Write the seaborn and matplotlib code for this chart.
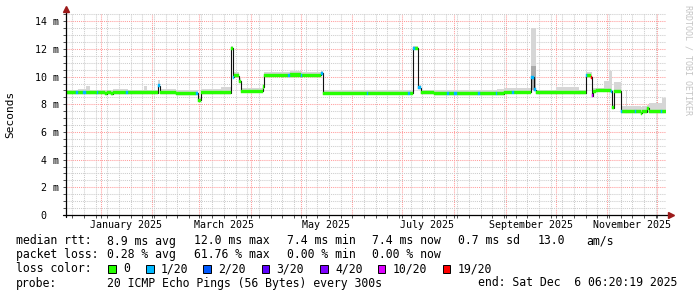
import numpy as np
import pandas as pd
import matplotlib
matplotlib.use("Agg")
import matplotlib.pyplot as plt
import matplotlib.dates as mdates
from matplotlib.ticker import MultipleLocator, FuncFormatter, NullFormatter
from matplotlib.patches import Rectangle
import seaborn as sns

# ---------------- data ----------------
period_start = "2024-12-11 06:20"
period_end = "2025-12-06 06:20"

seg_start = [
    "2024-12-11 06:20", "2024-12-17 12:00", "2024-12-18 12:00", "2024-12-21 06:00",
    "2024-12-23 00:00", "2024-12-25 20:00", "2024-12-29 18:00", "2024-12-30 12:00",
    "2025-01-03 18:00", "2025-01-04 18:00", "2025-01-07 06:00", "2025-01-08 06:00",
    "2025-01-16 00:00", "2025-01-17 06:00", "2025-01-27 00:00", "2025-01-29 00:00",
    "2025-02-04 12:00", "2025-02-05 22:00", "2025-02-15 10:00", "2025-02-27 00:00",
    "2025-02-28 08:00", "2025-03-02 04:00", "2025-03-14 00:00", "2025-03-20 00:00",
    "2025-03-21 10:00", "2025-03-22 00:00", "2025-03-25 00:00", "2025-03-26 06:00",
    "2025-04-08 12:00", "2025-04-09 06:00", "2025-04-23 12:00", "2025-04-24 12:00",
    "2025-05-01 00:00", "2025-05-02 00:00", "2025-05-13 06:00", "2025-05-14 06:00",
    "2025-06-09 15:00", "2025-06-10 12:00", "2025-07-04 18:00", "2025-07-05 12:00",
    "2025-07-07 16:00", "2025-07-08 16:00", "2025-07-10 16:00", "2025-07-12 01:00",
    "2025-07-20 00:00", "2025-07-28 00:00", "2025-07-29 00:00", "2025-08-01 00:00",
    "2025-08-03 00:00", "2025-08-15 12:00", "2025-08-16 12:00", "2025-08-26 00:00",
    "2025-08-27 00:00", "2025-08-31 00:00", "2025-09-05 00:00", "2025-09-06 00:00",
    "2025-09-16 06:00", "2025-09-18 00:00", "2025-09-19 00:00", "2025-10-01 00:00",
    "2025-10-15 00:00", "2025-10-19 02:00", "2025-10-20 00:00", "2025-10-22 00:00",
    "2025-10-22 18:00", "2025-10-23 18:00", "2025-10-25 00:00", "2025-10-30 00:00",
    "2025-11-02 00:00", "2025-11-03 06:00", "2025-11-04 00:00", "2025-11-05 06:00",
    "2025-11-09 00:00", "2025-11-10 00:00", "2025-11-12 00:00", "2025-11-12 16:00",
    "2025-11-17 12:00", "2025-11-18 06:00", "2025-11-21 06:00", "2025-11-22 00:00",
    "2025-11-25 00:00", "2025-11-26 00:00", "2025-12-03 00:00", "2025-12-04 00:00",
]
seg_median_ms = [
    8.85, 8.85, 8.85, 8.85, 8.85, 8.85, 8.85, 8.85,
    8.75, 8.85, 8.78, 8.85, 8.85, 8.85, 8.85, 8.85,
    9.35, 8.85, 8.75, 8.80, 8.30, 8.85, 8.85, 12.05,
    9.95, 10.07, 9.65, 8.93, 9.25, 10.10, 10.10, 10.12,
    10.10, 10.10, 10.25, 8.80, 8.80, 8.80, 8.80, 8.80,
    12.04, 12.04, 9.20, 8.85, 8.75, 8.75, 8.75, 8.75,
    8.75, 8.75, 8.75, 8.75, 8.75, 8.88, 8.88, 8.88,
    9.97, 9.05, 8.82, 8.82, 8.82, 10.05, 10.05, 9.95,
    8.62, 8.95, 9.02, 9.02, 9.02, 8.95, 7.76, 8.96,
    7.45, 7.45, 7.45, 7.45, 7.45, 7.45, 7.35, 7.45,
    7.70, 7.45, 7.45, 7.45,
]
seg_smoke_ms = [
    9.05, 9.05, 9.10, 9.10, 9.30, 9.05, 9.05, 9.00,
    9.00, 9.05, 9.05, 9.10, 9.10, 9.05, 9.35, 9.05,
    9.75, 9.10, 9.05, 9.05, 8.55, 9.10, 9.25, 12.25,
    10.25, 10.30, 9.90, 9.15, 9.45, 10.35, 10.35, 10.40,
    10.35, 10.35, 10.40, 9.00, 9.00, 9.00, 9.05, 9.05,
    12.20, 12.20, 9.40, 9.05, 9.00, 9.00, 9.00, 9.00,
    9.05, 9.05, 9.05, 9.05, 9.10, 9.15, 9.15, 9.15,
    13.50, 13.50, 9.05, 9.25, 9.05, 10.35, 10.35, 10.30,
    8.90, 9.15, 9.20, 9.70, 10.38, 10.38, 8.00, 9.60,
    7.80, 7.85, 9.06, 7.85, 7.85, 7.85, 7.80, 7.85,
    7.95, 8.10, 8.10, 8.46,
]
seg_loss = [
    0, 1, 0, 1, 0, 0, 1, 0,
    0, 0, 0, 0, 1, 0, 0, 0,
    1, 0, 0, 1, 0, 0, 0, 0,
    1, 0, 0, 0, 0, 0, 1, 0,
    1, 0, 1, 0, 1, 0, 1, 0,
    1, 0, 1, 0, 0, 1, 0, 1,
    0, 1, 0, 1, 0, 0, 1, 0,
    1, 1, 0, 0, 0, 1, 0, 6,
    5, 0, 0, 0, 0, 1, 0, 0,
    1, 0, 0, 0, 1, 0, 0, 0,
    0, 0, 1, 0,
]
# darker inner smoke of the September burst
inner_smoke_start = ["2025-09-16 06:00"]
inner_smoke_end = ["2025-09-19 00:00"]
inner_smoke_hi = [10.75]

loss_labels = ["0", "1/20", "2/20", "3/20", "4/20", "10/20", "19/20"]
loss_colors = ["#26ff00", "#00b8ff", "#0059ff", "#5e00ff", "#7e00ff", "#dd00ff", "#ff0000"]

month_labels = ["January 2025", "March 2025", "May 2025", "July 2025",
                "September 2025", "November 2025"]
month_label_dates = ["2025-01-16", "2025-03-16", "2025-05-16", "2025-07-16",
                     "2025-09-16", "2025-11-16"]

stats_rtt = ["8.9 ms avg", "12.0 ms max", "7.4 ms min", "7.4 ms now", "0.7 ms sd", "13.0", "am/s"]
stats_loss = ["0.28 % avg", "61.76 % max", "0.00 % min", "0.00 % now"]
probe_text = "20 ICMP Echo Pings (56 Bytes) every 300s"
end_text = "end: Sat Dec  6 06:20:19 2025"

# ---------------- figure ----------------
sns.set_theme(style="white")
plt.rcParams['font.family'] = ['DejaVu Sans Mono', 'DejaVu Sans']

W, H = 697, 297
fig = plt.figure(figsize=(W / 100, H / 100), dpi=100)
fig.patch.set_facecolor("white")
L, R, T, B = 66, 666, 13, 215
ax = fig.add_axes([L / W, 1 - B / H, (R - L) / W, (B - T) / H])
ax.set_facecolor("white")

starts = mdates.date2num(pd.to_datetime(seg_start))
x_end = mdates.date2num(pd.Timestamp(period_end))
x_beg = mdates.date2num(pd.Timestamp(period_start))
edges = np.append(starts, x_end)
widths = np.diff(edges)
med = np.array(seg_median_ms)
smoke = np.array(seg_smoke_ms)
loss = np.array(seg_loss)

# smoke
ax.fill_between(edges, np.append(med, med[-1]), np.append(smoke, smoke[-1]),
                step="post", color="#d6d6d6", linewidth=0, zorder=2)
for s, e, hi in zip(inner_smoke_start, inner_smoke_end, inner_smoke_hi):
    xs = mdates.date2num(pd.to_datetime([s, e]))
    m = med[(starts >= xs[0]) & (starts < xs[1])].min()
    ax.fill_between(xs, [m, m], [hi, hi], step="post", color="#ababab", linewidth=0, zorder=2.1)

# black median line
sns.lineplot(x=edges, y=np.append(med, med[-1]), drawstyle="steps-post",
             color="#101010", linewidth=0.8, ax=ax, zorder=3)

# loss coloured median bands
band = 0.22
for k, c in enumerate(loss_colors):
    msk = loss == k
    if msk.any():
        ax.bar(starts[msk], band, bottom=med[msk] - band / 2, width=widths[msk],
               align="edge", color=c, edgecolor=c, linewidth=0.3, zorder=4)

# axes limits, ticks, grid
ax.set_xlim(x_beg, x_end)
ax.set_ylim(0, 14.6)
ax.xaxis.set_major_locator(mdates.MonthLocator())
ax.xaxis.set_minor_locator(mdates.WeekdayLocator(byweekday=mdates.SU))
ax.xaxis.set_major_formatter(NullFormatter())
ax.yaxis.set_major_locator(MultipleLocator(2))
ax.yaxis.set_minor_locator(MultipleLocator(0.5))
ax.yaxis.set_major_formatter(FuncFormatter(lambda v, p: "0  " if v == 0 else f"{v:.0f} m"))

ax.grid(which="major", color="#ff9c9c", linestyle=(0, (1, 1)), linewidth=0.75)
ax.grid(which="minor", color="#cccccc", linestyle=(0, (1, 1)), linewidth=0.75)
ax.set_axisbelow(True)
for sp in ax.spines.values():
    sp.set_visible(False)
ax.tick_params(axis="both", which="both", direction="out", color="#333333",
               width=0.6, length=2.2, labelsize=7.2, labelcolor="black", pad=2.6,
               bottom=True, left=True)
ax.set_ylabel("")
ax.set_xlabel("")

# axis lines with arrows
ax.plot([0, 0], [-0.01, 1.012], transform=ax.transAxes, color="black", lw=0.9,
        clip_on=False, zorder=6)
ax.plot([-0.005, 1.005], [0, 0], transform=ax.transAxes, color="black", lw=0.9,
        clip_on=False, zorder=6)
ax.plot([0], [1.0175], marker="^", ms=4.2, color="#9c1a1a", mec="#9c1a1a",
        transform=ax.transAxes, clip_on=False, zorder=7)
ax.plot([1.0085], [0], marker=">", ms=4.2, color="#9c1a1a", mec="#9c1a1a",
        transform=ax.transAxes, clip_on=False, zorder=7)

# month labels centred mid-month
for lab, d in zip(month_labels, month_label_dates):
    ax.text(mdates.date2num(pd.Timestamp(d)), -(225.5 - B) / (B - T), lab,
            transform=ax.get_xaxis_transform(), ha="center", va="center",
            fontsize=7.2, color="black")

# y title and watermark
fig.text(10.7 / W, 1 - 114 / H, "Seconds", rotation=90, ha="center", va="center",
         fontsize=8, color="black")
fig.text(688 / W, 1 - 60 / H, "RRDTOOL / TOBI OETIKER", rotation=270, ha="center",
         va="center", fontsize=6, color="#c4c4c4")

# legend block
fs = 8.3
def put(xp, yp, s, **kw):
    fig.text(xp / W, 1 - yp / H, s, ha="left", va="center", fontsize=fs,
             color="black", **kw)

rows_y = [241, 254.7, 269, 283]
put(16, rows_y[0], "median rtt:")
for xp, s in zip([107.3, 194, 286.7, 372.3, 458.3, 537.3, 586], stats_rtt):
    put(xp, rows_y[0], s)
put(16, rows_y[1], "packet loss:")
for xp, s in zip([107.3, 194, 286.7, 372.3], stats_loss):
    put(xp, rows_y[1], s)
put(16, rows_y[2], "loss color:")
box_x = [108.3, 146, 203.3, 261.7, 320, 377.7, 442.7]
for bx, c, lab in zip(box_x, loss_colors, loss_labels):
    fig.patches.append(Rectangle((bx / W, 1 - 273.2 / H), 7.7 / W, 8 / H,
                                 transform=fig.transFigure, facecolor=c,
                                 edgecolor="black", linewidth=0.7))
    put(bx + 15, rows_y[2], lab)
put(16, rows_y[3], "probe:")
put(107.3, rows_y[3], probe_text)
put(478.3, rows_y[3], end_text)

fig.savefig("out.png", dpi=100, facecolor="white")
